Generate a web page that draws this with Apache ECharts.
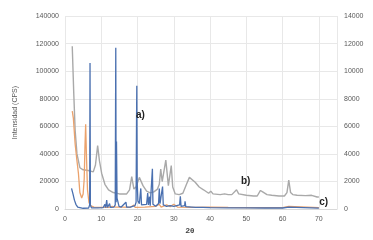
<!DOCTYPE html>
<html>
<head>
<meta charset="utf-8">
<script src="https://cdn.jsdelivr.net/npm/echarts@6/dist/echarts.min.js"></script>
<style>html,body{margin:0;padding:0;background:#fff;}#c{width:373px;height:240px;}</style>
</head>
<body>
<div id="c"></div>
<script>
const xTicks = [0, 10, 20, 30, 40, 50, 60, 70];
const leftTicks = [0, 20000, 40000, 60000, 80000, 100000, 120000, 140000];
const rightTicks = [0, 2000, 4000, 6000, 8000, 10000, 12000, 14000];

const seriesA = [[1.8,15000],[2.2,11000],[2.6,6500],[3.0,3500],[3.5,1500],[4,800],[5,600],[6.5,700],[6.8,3000],[6.9,106000],[7.0,3000],[7.3,900],[9,900],[10.5,1000],[11,3500],[11.2,1000],[11.5,6500],[11.7,1200],[12.3,4000],[12.5,1200],[13.5,1500],[13.85,3000],[14.0,117000],[14.1,5000],[14.2,49000],[14.35,8000],[14.7,9000],[14.9,2000],[15.5,1500],[16,2000],[16.8,5000],[17,1500],[18,1500],[19.3,2500],[19.6,5000],[19.72,62000],[19.8,89500],[19.9,20000],[20.1,6000],[20.5,4000],[20.9,15000],[21.1,3000],[21.6,2500],[22.5,3500],[22.8,11600],[23.0,3000],[23.3,9000],[23.5,2500],[24.0,3000],[24.1,29300],[24.25,3500],[25,2000],[25.8,4000],[26.0,15000],[26.2,4000],[26.7,5000],[26.9,16300],[27.1,3000],[28,2000],[29,2500],[30,2000],[31.6,3000],[31.8,9200],[32,2000],[33,2500],[33.1,5700],[33.3,1800],[35,1500],[36,1200],[38,1200],[40,1100],[45,900],[50,900],[55,800],[60,800],[61.7,1500],[62.2,800],[70,700]];

const seriesB = [[2.0,118000],[2.4,85000],[2.8,57000],[3.3,40000],[4.1,30000],[5,28500],[6.4,28000],[7.8,27000],[8.4,32000],[9.0,46000],[9.5,35000],[10.1,26000],[11,18000],[12,14000],[13.3,12000],[15,11000],[17,11000],[17.8,14000],[18.4,23500],[19,14500],[19.6,16000],[20.5,23000],[21.5,17000],[22.5,13000],[23.5,11800],[24.5,12500],[25.5,14500],[26,18000],[26.4,29000],[26.8,20000],[27.2,19000],[27.8,35500],[28.5,17000],[28.9,16000],[29.3,31500],[29.7,16000],[30.4,11000],[31.5,10500],[32.5,11500],[33.5,18000],[34.3,23000],[34.8,22000],[35.9,19500],[37,16000],[38.2,14000],[39.6,11500],[40.2,13000],[40.8,11000],[42.8,10500],[44,11000],[45,10500],[46,10500],[47.3,14000],[47.9,11000],[48.3,10500],[50,10000],[52,9500],[53,9500],[53.9,13500],[54.5,12500],[55.7,10500],[57,10000],[59,9500],[60.5,9500],[61.2,12000],[61.7,21000],[62.2,12000],[62.8,10500],[64,10000],[66.3,9800],[68,10000],[69.5,8800],[70,8800]];

const seriesC = [[2.0,71000],[2.3,66000],[2.8,47000],[3.3,35000],[3.7,26000],[4.1,12000],[4.6,8000],[5.0,11000],[5.3,22000],[5.5,45000],[5.7,61500],[5.9,40000],[6.2,14000],[6.6,5000],[7,2500],[8,1500],[10,1200],[12,1200],[13,2000],[14,1500],[16,1500],[18,1300],[19,3000],[19.3,1300],[22,1500],[25,2000],[26,3500],[26.5,1500],[28,3000],[29,1800],[30,3500],[31,1500],[35,1300],[40,1500],[45,1200],[50,1100],[55,1100],[60,1100],[61.7,2000],[62,1100],[70,1000]];

const labelA = [20.8, 68000];
const labelB = [49.8, 19900];
const labelC = [71.3, 5000];

const txt = '#595959';
const chart = echarts.init(document.getElementById('c'), null, {renderer: 'canvas'});
function mark(coord, text){
  return {silent:true, symbol:'none', data:[{coord:coord, symbol:'circle', symbolSize:0.01,
    label:{show:true, position:'inside', formatter:text, color:'#222', fontWeight:'bold', fontSize:10, fontFamily:'Liberation Sans'}}]};
}
chart.setOption({
  animation:false,
  grid:{left:65, right:36, top:16, bottom:27},
  xAxis:{type:'value', min:0, max:75, interval:10,
    name:'2θ', nameLocation:'middle', nameGap:14,
    nameTextStyle:{color:'#404040', fontSize:8, fontWeight:'bold', fontFamily:'Liberation Sans', padding:[0,22,0,0]},
    axisLine:{show:true, lineStyle:{color:'#d9d9d9'}}, axisTick:{show:false},
    axisLabel:{color:txt, fontSize:7, fontFamily:'Liberation Sans', margin:6,
      formatter:v => xTicks.includes(v) ? String(v) : ''},
    splitLine:{show:true, lineStyle:{color:'#e8e8e8', width:1}}},
  yAxis:[
    {type:'value', min:0, max:140000, interval:20000,
      name:'Intensidad (CPS)', nameLocation:'middle', nameGap:46,
      nameTextStyle:{color:txt, fontSize:7, fontFamily:'Liberation Sans'},
      axisLine:{show:false}, axisTick:{show:false},
      axisLabel:{color:txt, fontSize:7, fontFamily:'Liberation Sans', margin:6,
        formatter:v => leftTicks.includes(v) ? String(v) : ''},
      splitLine:{show:true, lineStyle:{color:'#e8e8e8'}}},
    {type:'value', min:0, max:14000, interval:2000, position:'right',
      axisLine:{show:false}, axisTick:{show:false},
      axisLabel:{color:txt, fontSize:7, fontFamily:'Liberation Sans', margin:7,
        formatter:v => rightTicks.includes(v) ? String(v) : ''},
      splitLine:{show:false}}
  ],
  series:[
    {type:'line', data:seriesB, showSymbol:false, lineStyle:{color:'#a9a9a9', width:1.4}, markPoint:mark(labelB,'b)')},
    {type:'line', data:seriesC, showSymbol:false, lineStyle:{color:'#eba26c', width:1.3}, markPoint:mark(labelC,'c)')},
    {type:'line', data:seriesA, showSymbol:false, lineStyle:{color:'#4a70b0', width:1.3}, markPoint:mark(labelA,'a)')}
  ]
});
</script>
</body>
</html>
